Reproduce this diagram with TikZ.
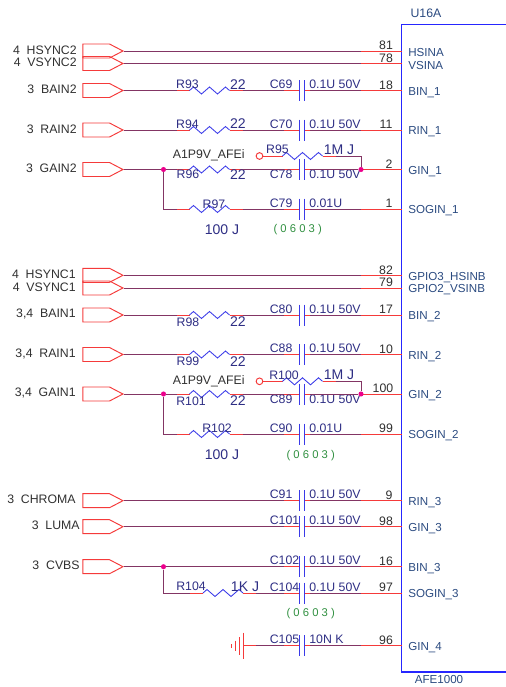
\documentclass[tikz,border=0pt]{standalone}
\usepackage{fontspec}
\setmainfont{Liberation Sans}
\usetikzlibrary{shapes.symbols}
\definecolor{netred}{HTML}{F53A3A}
\definecolor{netwire}{HTML}{833564}
\definecolor{partblue}{HTML}{3A3AE8}
\definecolor{partname}{HTML}{2E2E84}
\definecolor{pinname}{HTML}{2A4A80}
\definecolor{sheetgray}{HTML}{303030}
\definecolor{sizegreen}{HTML}{2F8F3F}
\tikzset{
  lbl/.style={inner sep=0pt,font=\fontsize{7}{8}\selectfont},
  sheetlbl/.style={lbl,text=sheetgray},
  partlbl/.style={lbl,text=partname},
  vallbl/.style={inner sep=0pt,text=partname,font=\fontsize{8}{9}\selectfont},
  pinlbl/.style={inner sep=0pt,text=pinname,font=\fontsize{6.6}{8}\selectfont},
  sizelbl/.style={inner sep=0pt,text=sizegreen,font=\fontsize{6.4}{8}\selectfont},
  wire/.style={netwire,line width=0.55pt},
  stub/.style={netred,line width=0.55pt},
  part/.style={partblue,line width=0.5pt},
  chip/.style={blue!85!white,line width=0.6pt},
  port/.style={draw=netred,line width=0.55pt,shape=signal,signal to=east,signal pointer angle=55,
    minimum width=0.8cm,minimum height=0.28cm,inner sep=0pt,anchor=east},
  junction/.style={circle,fill=magenta,inner sep=0pt,minimum size=2.9pt},
  hollow/.style={circle,draw=netred,fill=white,line width=0.55pt,inner sep=0pt,minimum size=3.8pt},
  resistor/.pic={
    \coordinate (-in) at (-33,0);
    \coordinate (-out) at (33,0);
    \draw[stub] (-33,0) -- (-20,0);
    \draw[stub] (20,0) -- (33,0);
    \draw[part] (-20,0) -- (-16,-3.5) -- (-8,3.5) -- (0,-3.5) -- (8,3.5) -- (16,-3.5) -- (20,0);
  },
  capacitor/.pic={
    \coordinate (-in) at (-18,0);
    \coordinate (-out) at (8,0);
    \draw[stub] (-18,0) -- (-2.4,0);
    \draw[stub] (2.4,0) -- (8,0);
    \draw[part] (-2.4,-10.5) -- (-2.4,10.5);
    \draw[part] (2.4,-10.5) -- (2.4,10.5);
  }
}
\begin{document}
\begin{tikzpicture}[x=0.02cm,y=-0.02cm]
  \useasboundingbox (0,0) rectangle (506,687);
  % chip outline
  \draw[chip] (506,24.5) -- (401.5,24.5) -- (401.5,672) -- (506,672);
  \node[pinlbl,font=\fontsize{7}{8}\selectfont] (u16a) at (426,13) {U16A};
  \node[pinlbl] (afe) at (439,679.5) {AFE1000};
  % chip pins
  \foreach \pn/\yy/\pname/\nx in {81/51/HSINA/386,78/63.5/VSINA/386,18/90.5/BIN\_1/386,11/130/RIN\_1/386,
      2/169.5/GIN\_1/389,1/209/SOGIN\_1/389,82/275.3/GPIO3\_HSINB/386,79/288/GPIO2\_VSINB/386,
      17/315/BIN\_2/386,10/354.5/RIN\_2/386,100/394/GIN\_2/383,99/434/SOGIN\_2/386,
      9/500.7/RIN\_3/389,98/526.7/GIN\_3/386,16/566.7/BIN\_3/386,97/593/SOGIN\_3/386,96/645.7/GIN\_4/386}{
    \coordinate (stub\pn) at (361,\yy);
    \coordinate (pin\pn) at (401.5,\yy);
    \draw[stub] (stub\pn) -- (pin\pn);
    \node[sheetlbl] (num\pn) at (\nx,\yy-5.5) {\pn};
    \node[pinlbl,anchor=west] (name\pn) at (408,\yy+2) {\pname};
  }
  % input ports
  \foreach \pt/\yy/\xx/\txt in {hsynctwo/51/77/{4\ \ HSYNC2},vsynctwo/63.5/77/{4\ \ VSYNC2},
      baintwo/90.5/77/{3\ \ BAIN2},raintwo/130/77/{3\ \ RAIN2},gaintwo/169.5/77/{3\ \ GAIN2},
      hsyncone/275.3/76/{4\ \ HSYNC1},vsyncone/288/76/{4\ \ VSYNC1},
      bainone/315/76/{3,4\ \ BAIN1},rainone/354.5/76/{3,4\ \ RAIN1},gainone/394/76/{3,4\ \ GAIN1},
      chroma/500.7/76/{3\ \ CHROMA},luma/526.7/80/{3\ \ LUMA},cvbs/566.7/80/{3\ \ CVBS}}{
    \node[port] (\pt) at (124,\yy) {};
    \node[sheetlbl,anchor=east] (lbl\pt) at (\xx,\yy-1) {\txt};
  }
  % capacitors
  \foreach \cn/\yy/\ly/\cval in {69/90.5/84.5/{0.1U 50V},70/130/124/{0.1U 50V},78/169.5/174/{0.1U 50V},79/209/203.5/{0.01U},
      80/315/309/{0.1U 50V},88/354.5/348.5/{0.1U 50V},89/394/399.5/{0.1U 50V},90/434/428/{0.01U},
      91/500.7/494.5/{0.1U 50V},101/526.7/520.5/{0.1U 50V},102/566.7/560/{0.1U 50V},104/593/587/{0.1U 50V},105/645.7/639.5/{10N K}}{
    \pic (c\cn) at (302,\yy) {capacitor};
    \node[partlbl,anchor=west] (lc\cn) at (269.5,\ly) {C\cn};
    \node[partlbl,anchor=west] (vc\cn) at (309,\ly) {\cval};
  }
  % resistors
  \foreach \rn/\xx/\yy/\lx/\ly/\vx/\vy/\rval in {93/209.5/90.5/187.5/84.5/238/84.5/22,94/209.5/130/187.5/124/238/124/22,
      96/209.5/169.5/188/174.5/238/174.5/22,97/209.5/209/214/204/222/229.5/{100 J},95/302.5/156/277.5/149.5/339/150/{1M J},
      98/209.5/315/188/322/238/322/22,99/209.5/354.5/188/361.5/238/361.5/22,101/209.5/394/191/401/238/401/22,
      102/209.5/434/217/428/222/455/{100 J},100/302.5/381.3/284/375/339/375/{1M J},104/223/593/191/586.5/245/586.5/{1K J}}{
    \pic (r\rn) at (\xx,\yy) {resistor};
    \node[partlbl] (lr\rn) at (\lx,\ly) {R\rn};
    \node[vallbl] (vr\rn) at (\vx,\vy) {\rval};
  }
  % package size notes
  \node[sizelbl] (sizea) at (297.7,230) {( 0 6 0 3 )};
  \node[sizelbl] (sizeb) at (310.7,456) {( 0 6 0 3 )};
  \node[sizelbl] (sizec) at (310.7,614) {( 0 6 0 3 )};
  % junctions and supply pins
  \node[junction] (jgaintwo) at (163.5,169.5) {};
  \node[junction] (jgintwo) at (361,169.5) {};
  \node[junction] (jgainone) at (163.5,394) {};
  \node[junction] (jginone) at (361,394) {};
  \node[junction] (jcvbs) at (163.5,566.7) {};
  \node[hollow] (vcca) at (259.5,156) {};
  \node[hollow] (vccb) at (259.5,381.3) {};
  \node[sheetlbl,anchor=east] (lvcca) at (245,155) {A1P9V\_AFEi};
  \node[sheetlbl,anchor=east] (lvccb) at (245,381) {A1P9V\_AFEi};
  % first channel
  \draw[wire] (hsynctwo.east) -- (stub81);
  \draw[wire] (vsynctwo.east) -- (stub78);
  \draw[wire] (baintwo.east) -- (r93-in);
  \draw[wire] (r93-out) -- (c69-in);
  \draw[wire] (c69-out) -- (stub18);
  \draw[wire] (raintwo.east) -- (r94-in);
  \draw[wire] (r94-out) -- (c70-in);
  \draw[wire] (c70-out) -- (stub11);
  \draw[wire] (gaintwo.east) -- (jgaintwo);
  \draw[wire] (jgaintwo) -- (r96-in);
  \draw[wire] (r96-out) -- (c78-in);
  \draw[wire] (c78-out) -- (jgintwo);
  \draw[wire] (jgaintwo) |- (r97-in);
  \draw[wire] (r97-out) -- (c79-in);
  \draw[wire] (c79-out) -- (stub1);
  \draw[stub] (vcca) -- (r95-in);
  \draw[wire] (r95-out) -| (jgintwo);
  % second channel
  \draw[wire] (hsyncone.east) -- (stub82);
  \draw[wire] (vsyncone.east) -- (stub79);
  \draw[wire] (bainone.east) -- (r98-in);
  \draw[wire] (r98-out) -- (c80-in);
  \draw[wire] (c80-out) -- (stub17);
  \draw[wire] (rainone.east) -- (r99-in);
  \draw[wire] (r99-out) -- (c88-in);
  \draw[wire] (c88-out) -- (stub10);
  \draw[wire] (gainone.east) -- (jgainone);
  \draw[wire] (jgainone) -- (r101-in);
  \draw[wire] (r101-out) -- (c89-in);
  \draw[wire] (c89-out) -- (jginone);
  \draw[wire] (jgainone) |- (r102-in);
  \draw[wire] (r102-out) -- (c90-in);
  \draw[wire] (c90-out) -- (stub99);
  \draw[stub] (vccb) -- (r100-in);
  \draw[wire] (r100-out) -| (jginone);
  % third channel
  \draw[wire] (chroma.east) -- (c91-in);
  \draw[wire] (c91-out) -- (stub9);
  \draw[wire] (luma.east) -- (c101-in);
  \draw[wire] (c101-out) -- (stub98);
  \draw[wire] (cvbs.east) -- (jcvbs);
  \draw[wire] (jcvbs) -- (c102-in);
  \draw[wire] (c102-out) -- (stub16);
  \draw[wire] (jcvbs) |- (r104-in);
  \draw[wire] (r104-out) -- (c104-in);
  \draw[wire] (c104-out) -- (stub97);
  % ground
  \coordinate (gnd) at (243,645.7);
  \coordinate (gndend) at (256,645.7);
  \draw[stub] (gnd) -- (gndend);
  \draw[wire] (gndend) -- (c105-in);
  \draw[wire] (c105-out) -- (stub96);
  \draw[stub] (243,632.7) -- (243,658.7);
  \draw[stub] (239,637) -- (239,654.5);
  \draw[stub] (235,640.5) -- (235,651);
  \draw[stub] (231,644) -- (231,647.5);
\end{tikzpicture}
\end{document}
